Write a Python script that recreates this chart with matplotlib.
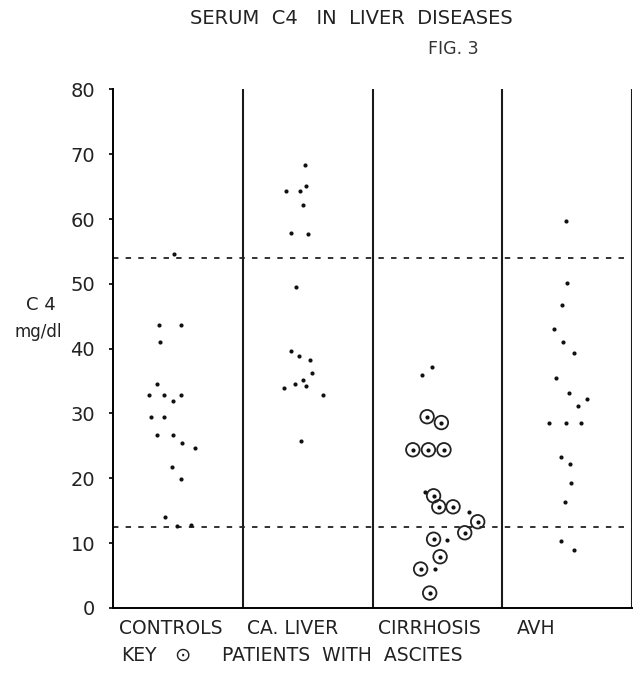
import numpy as np
import matplotlib
matplotlib.use("Agg")
import matplotlib.pyplot as plt

# Serum C4 (mg/dl), one list per group.
# *_x is the horizontal place of each dot inside its column (0..1).
groups = ["CONTROLS", "CA. LIVER", "CIRRHOSIS", "AVH"]

controls_c4 = [54.6, 43.7, 43.7, 41.0, 34.6, 32.9, 32.9, 32.9, 32.0, 29.4,
               29.5, 26.7, 26.7, 25.5, 24.7, 21.8, 19.9, 14.1, 12.7, 12.8]
controls_x = [0.47, 0.35, 0.52, 0.36, 0.34, 0.28, 0.39, 0.52, 0.46, 0.29,
              0.39, 0.34, 0.46, 0.53, 0.63, 0.45, 0.52, 0.40, 0.49, 0.60]

caliver_c4 = [68.3, 65.1, 64.3, 64.3, 62.1, 57.8, 57.7, 49.5, 39.6, 38.8,
              38.2, 36.2, 35.2, 34.5, 34.2, 34.0, 32.8, 25.7]
caliver_x = [0.48, 0.49, 0.33, 0.44, 0.46, 0.37, 0.50, 0.41, 0.37, 0.43,
             0.52, 0.53, 0.46, 0.40, 0.49, 0.32, 0.62, 0.45]

# cirrhosis: ascites flag 1 = ringed dot
cirrhosis_c4 = [37.1, 36.0, 29.5, 28.6, 24.4, 24.4, 24.4, 17.9, 17.3, 15.6,
                15.6, 14.8, 13.3, 11.6, 10.6, 10.5, 7.9, 6.0, 6.0, 2.3]
cirrhosis_x = [0.46, 0.38, 0.42, 0.53, 0.31, 0.43, 0.55, 0.40, 0.47, 0.51,
               0.62, 0.74, 0.81, 0.71, 0.47, 0.57, 0.52, 0.37, 0.48, 0.44]
cirrhosis_ascites = [0, 0, 1, 1, 1, 1, 1, 0, 1, 1,
                     1, 0, 1, 1, 1, 0, 1, 1, 0, 1]

avh_c4 = [59.7, 50.2, 46.8, 43.1, 41.0, 39.4, 35.4, 33.2, 32.3, 31.2,
          28.6, 28.6, 28.6, 23.3, 22.2, 19.3, 16.4, 10.4, 9.0]
avh_x = [0.49, 0.50, 0.46, 0.40, 0.47, 0.55, 0.41, 0.51, 0.65, 0.58,
         0.36, 0.49, 0.61, 0.45, 0.52, 0.53, 0.48, 0.45, 0.55]

normal_range = [12.5, 54.0]
yticks = [0, 10, 20, 30, 40, 50, 60, 70, 80]

ink = "#222222"

fig = plt.figure(figsize=(6.43, 6.77), dpi=100)
ax = fig.add_axes([0.176, 0.102, 0.807, 0.766])
ax.set_xlim(0, 4)
ax.set_ylim(0, 80)

# column frame
for s in ["top", "right"]:
    ax.spines[s].set_visible(False)
ax.spines["left"].set_linewidth(1.4)
ax.spines["bottom"].set_linewidth(1.4)
for xd in [1, 2, 3, 4]:
    ax.axvline(xd, color="#1a1a1a", lw=1.5)

# normal range limits
for yv in normal_range:
    ax.axhline(yv, color=ink, lw=1.3, ls=(0, (3, 4)))

dot = dict(s=9, color="#111111", zorder=3, linewidths=0)
ax.scatter(np.array(controls_x), controls_c4, **dot)
ax.scatter(1 + np.array(caliver_x), caliver_c4, **dot)
ax.scatter(3 + np.array(avh_x), avh_c4, **dot)

cx = 2 + np.array(cirrhosis_x)
cy = np.array(cirrhosis_c4)
asc = np.array(cirrhosis_ascites) == 1
ax.scatter(cx, cy, **dot)
ax.scatter(cx[asc], cy[asc], s=95, facecolors="none", edgecolors=ink,
           linewidths=1.3, zorder=3)

ax.set_xticks([])
ax.set_yticks(yticks)
ax.set_yticklabels([str(v) for v in yticks], fontsize=14, color=ink)
ax.tick_params(axis="y", direction="out", length=3, width=1.2, pad=10)

fig.text(0.546, 0.973, "SERUM  C4   IN  LIVER  DISEASES", ha="center",
         va="center", fontsize=14, color=ink)
fig.text(0.705, 0.927, "FIG. 3", ha="center", va="center", fontsize=12.5,
         color="#333333")
fig.text(0.064, 0.549, "C 4", ha="center", va="center", fontsize=13,
         color=ink)
fig.text(0.060, 0.510, "mg/dl", ha="center", va="center", fontsize=12,
         color=ink)

label_x = [0.185, 0.384, 0.588, 0.804]
for lx, g in zip(label_x, groups):
    fig.text(lx, 0.072, g, ha="left", va="center", fontsize=13.5,
             color=ink)
fig.text(0.188, 0.032, "KEY", ha="left", va="center", fontsize=13.5,
         color=ink)
fig.text(0.284, 0.032, "\u2299", ha="center", va="center", fontsize=14,
         color=ink)
fig.text(0.345, 0.032, "PATIENTS  WITH  ASCITES", ha="left", va="center",
         fontsize=13.5, color=ink)

fig.savefig("out.png", dpi=100)
